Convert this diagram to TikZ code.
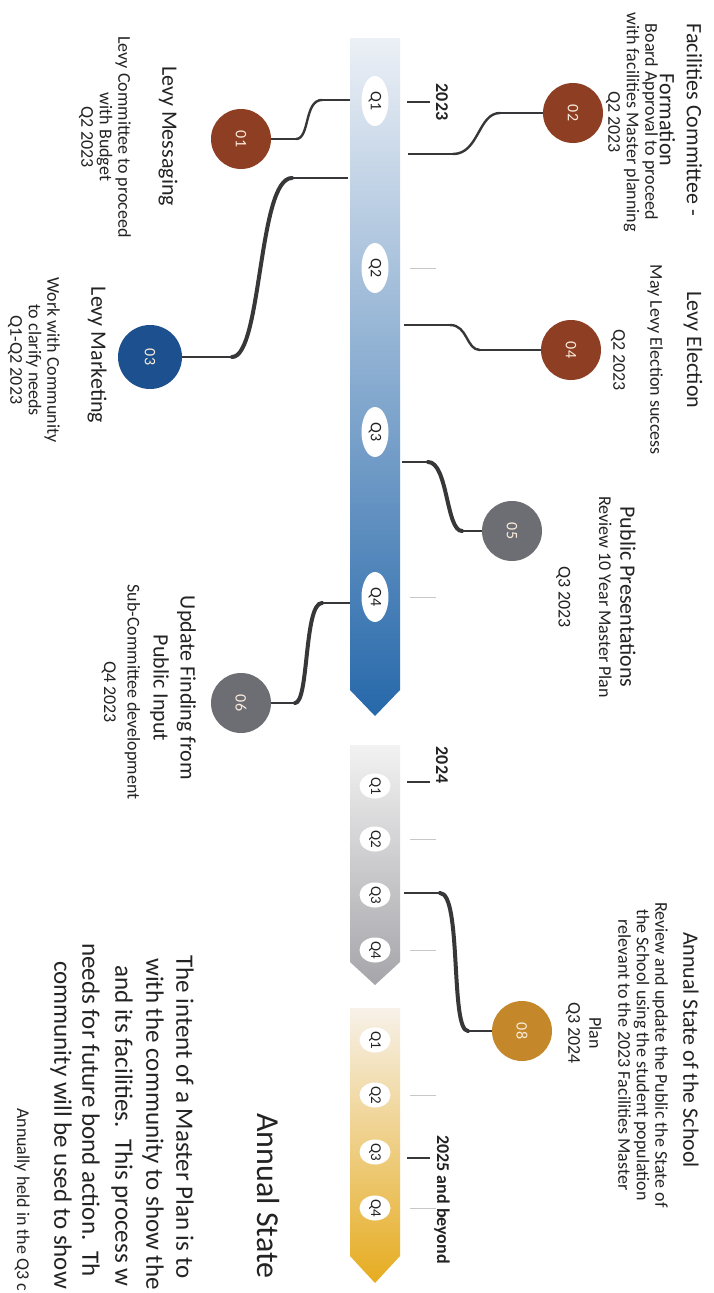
\documentclass[tikz,border=0pt]{standalone}
\usepackage{fontspec}
\usepackage{graphicx}
\setmainfont{Carlito}
\usetikzlibrary{shapes.geometric}
\definecolor{txt}{RGB}{35,35,35}
\definecolor{conn}{RGB}{55,55,58}
\definecolor{brn}{RGB}{142,62,34}
\definecolor{blu}{RGB}{28,80,142}
\definecolor{gry}{RGB}{108,110,116}
\definecolor{gld}{RGB}{196,136,42}
\definecolor{numtxt}{RGB}{250,235,220}
\definecolor{b1top}{RGB}{236,240,246}
\definecolor{b1mid}{RGB}{150,182,214}
\definecolor{b1bot}{RGB}{38,104,170}
\definecolor{b2top}{RGB}{242,242,242}
\definecolor{b2mid}{RGB}{208,208,210}
\definecolor{b2bot}{RGB}{165,165,170}
\definecolor{b3top}{RGB}{247,241,233}
\definecolor{b3mid}{RGB}{238,206,130}
\definecolor{b3bot}{RGB}{230,172,32}
\tikzset{
  hd/.style={rotate=-90, align=center, font=\fontsize{22}{27}\selectfont, text=txt, inner sep=0pt},
  bd/.style={rotate=-90, align=center, font=\fontsize{18}{18.5}\selectfont, text=txt, inner sep=0pt},
  para/.style={rotate=-90, anchor=west, font=\fontsize{25}{31}\selectfont, text=txt, inner sep=0pt},
  dot/.style={circle, minimum size=60pt, inner sep=0pt, font=\fontsize{16}{16}\selectfont, text=numtxt},
  qb/.style={ellipse, fill=white, inner sep=0pt, minimum width=27pt, minimum height=50pt, font=\fontsize{16}{16}\selectfont, text=txt},
  qs/.style={ellipse, fill=white, inner sep=0pt, minimum width=31pt, minimum height=23pt, font=\fontsize{15}{15}\selectfont, text=txt},
  cthin/.style={draw=conn, line width=1.4pt},
  ccurve/.style={draw=conn, line width=2.4pt, line cap=round},
  cthick/.style={draw=conn, line width=4pt, line cap=round},
  yr/.style={rotate=-90, font=\bfseries\fontsize{18}{18}\selectfont, text=txt, inner sep=0pt},
  ytick/.style={draw=conn, line width=2.4pt},
  qtick/.style={draw=black!22, line width=1pt},
}
\begin{document}
\begin{tikzpicture}[x=1pt,y=-1pt]
\useasboundingbox (0,0) rectangle (713,1293);
\clip (0,0) rectangle (713,1293);
\fill[white] (0,0) rectangle (713,1293);

% ---- bars ----
\shade[top color=b1top, middle color=b1mid, bottom color=b1bot]
  (350,38) -- (400,38) -- (400,690) -- (375,716) -- (350,690) -- cycle;
\shade[top color=b2top, middle color=b2mid, bottom color=b2bot]
  (350,745) -- (400,745) -- (400,962) -- (375,985) -- (350,962) -- cycle;
\shade[top color=b3top, middle color=b3mid, bottom color=b3bot]
  (350,1008) -- (400,1008) -- (400,1256) -- (375,1283) -- (350,1256) -- cycle;

% ---- quarter labels ----
\node[qb] (qa1) at (375,101) {\rotatebox{-90}{Q1}};
\node[qb] (qa2) at (375,268) {\rotatebox{-90}{Q2}};
\node[qb] (qa3) at (375,432) {\rotatebox{-90}{Q3}};
\node[qb] (qa4) at (375,597) {\rotatebox{-90}{Q4}};
\node[qs] (qb1) at (375,786) {\rotatebox{-90}{Q1}};
\node[qs] (qb2) at (375,839) {\rotatebox{-90}{Q2}};
\node[qs] (qb3) at (375,895) {\rotatebox{-90}{Q3}};
\node[qs] (qb4) at (375,950) {\rotatebox{-90}{Q4}};
\node[qs] (qc1) at (375,1040) {\rotatebox{-90}{Q1}};
\node[qs] (qc2) at (375,1095) {\rotatebox{-90}{Q2}};
\node[qs] (qc3) at (375,1152) {\rotatebox{-90}{Q3}};
\node[qs] (qc4) at (375,1208) {\rotatebox{-90}{Q4}};

% ---- ticks and years ----
\coordinate (ya0) at (407,102);  \coordinate (ya1) at (430,102);
\coordinate (yb0) at (407,782);  \coordinate (yb1) at (430,782);
\coordinate (yc0) at (407,1158); \coordinate (yc1) at (430,1158);
\draw[ytick] (ya0) -- (ya1);
\draw[ytick] (yb0) -- (yb1);
\draw[ytick] (yc0) -- (yc1);
\node[yr] (y23) at (442,102) {2023};
\node[yr] (y24) at (442,765) {2024};
\node[yr, anchor=west] (y25) at (442,1135) {2025 and beyond};
\foreach \yy [count=\i] in {268,597,839,950,1095,1208}{
  \coordinate (ft\i a) at (410,\yy); \coordinate (ft\i b) at (436,\yy);
  \draw[qtick] (ft\i a) -- (ft\i b);
}

% ---- milestone circles ----
\node[dot, fill=brn] (n01) at (241,139) {\rotatebox{-90}{01}};
\node[dot, fill=brn] (n02) at (573,113) {\rotatebox{-90}{02}};
\node[dot, fill=blu, minimum size=64pt] (n03) at (150,357) {\rotatebox{-90}{03}};
\node[dot, fill=brn] (n04) at (571,350) {\rotatebox{-90}{04}};
\node[dot, fill=gry] (n05) at (512,531) {\rotatebox{-90}{05}};
\node[dot, fill=gry] (n06) at (241,703) {\rotatebox{-90}{06}};
\node[dot, fill=gld] (n08) at (522,1031) {\rotatebox{-90}{08}};

% ---- connectors ----
\coordinate (t01) at (350,100); \coordinate (k01a) at (322,100); \coordinate (k01b) at (296,139);
\draw[cthin] (t01) -- (k01a);
\draw[ccurve] (k01a) .. controls +(-18,0) and +(14,0) .. (k01b);
\draw[cthin] (k01b) -- (n01);

\coordinate (t02) at (408,154); \coordinate (k02a) at (453,154); \coordinate (k02b) at (500,113);
\draw[cthin] (t02) -- (k02a);
\draw[ccurve] (k02a) .. controls +(26,0) and +(-22,0) .. (k02b);
\draw[cthin] (k02b) -- (n02);

\coordinate (t03) at (348,178); \coordinate (k03a) at (292,178); \coordinate (k03b) at (232,357);
\draw[cthin, line width=2.2pt] (t03) -- (k03a);
\draw[cthick] (k03a) .. controls +(-34,0) and +(30,0) .. (k03b);
\draw[cthin, line width=2pt] (k03b) -- (n03);

\coordinate (t04) at (404,325); \coordinate (k04a) at (450,325); \coordinate (k04b) at (480,350);
\draw[cthin] (t04) -- (k04a);
\draw[ccurve] (k04a) .. controls +(18,0) and +(-14,0) .. (k04b);
\draw[cthin] (k04b) -- (n04);

\coordinate (t05) at (402,462); \coordinate (k05a) at (428,462); \coordinate (k05b) at (462,531);
\draw[cthin, line width=2pt] (t05) -- (k05a);
\draw[cthick] (k05a) .. controls +(20,0) and +(-16,0) .. (k05b);
\draw[cthin, line width=2pt] (k05b) -- (n05);

\coordinate (t06) at (350,603); \coordinate (k06a) at (322,603); \coordinate (k06b) at (295,703);
\draw[cthin, line width=2pt] (t06) -- (k06a);
\draw[cthick] (k06a) .. controls +(-18,0) and +(14,0) .. (k06b);
\draw[cthin, line width=2pt] (k06b) -- (n06);

\coordinate (t08) at (404,893); \coordinate (k08a) at (440,893); \coordinate (k08b) at (468,1031);
\draw[cthin, line width=2.2pt] (t08) -- (k08a);
\draw[cthick] (k08a) .. controls +(22,0) and +(-18,0) .. (k08b);
\draw[cthin, line width=2pt] (k08b) -- (n08);

% ---- texts ----
\node[hd] (h02) at (681,120) {Facilities Committee -\\Formation};
\node[bd] (b02) at (632,122) {Board Approval to proceed\\with facilities Master planning\\Q2 2023};
\node[hd] (h01) at (168,136) {Levy Messaging};
\node[bd] (b01) at (105,137) {Levy Committee to proceed\\with Budget\\Q2 2023};
\node[hd] (h04) at (693,350) {Levy Election};
\node[bd] (b04) at (637,360) {May Levy Election success\\[18.5pt]Q2 2023};
\node[hd] (h03) at (97,355) {Levy Marketing};
\node[bd] (b03) at (34,360) {Work with Community\\to clarify needs\\Q1-Q2 2023};
\node[hd] (h05) at (628,597) {Public Presentations};
\node[bd] (b05) at (584,597) {Review 10 Year Master Plan\\[22pt]Q3 2023};
\node[hd] (h06) at (173,688) {Update Finding from\\Public Input};
\node[bd] (b06) at (121,692) {Sub-Committee development\\[5pt]Q4 2023};
\node[hd] (h08) at (691,1050) {Annual State of the School};
\node[bd] (b08) at (643,1055) {Review and update the Public the State of\\the School using the student population\\relevant to the 2023 Facilities Master};
\node[bd] (p08) at (584,1033) {Plan\\[2.5pt]Q3 2024};

% ---- bottom-left paragraph (cut by the page edge) ----
\node[rotate=-90, anchor=west, font=\fontsize{32}{32}\selectfont, text=txt, inner sep=0pt] (big) at (268,1113) {Annual State};
\node[para] (pa1) at (185,955) {The intent of a Master Plan is to};
\node[para] (pa2) at (153,958) {with the community to show the};
\node[para] (pa3) at (122,965) {and its facilities.\ \ This process w};
\node[para] (pa4) at (91,943)  {needs for future bond action.\ \ Th};
\node[para] (pa5) at (61,961)  {community will be used to show};
\node[rotate=-90, anchor=west, font=\fontsize{18}{18}\selectfont, text=txt, inner sep=0pt] (ann) at (22,1108) {Annually held in the Q3 c};
\end{tikzpicture}
\end{document}
